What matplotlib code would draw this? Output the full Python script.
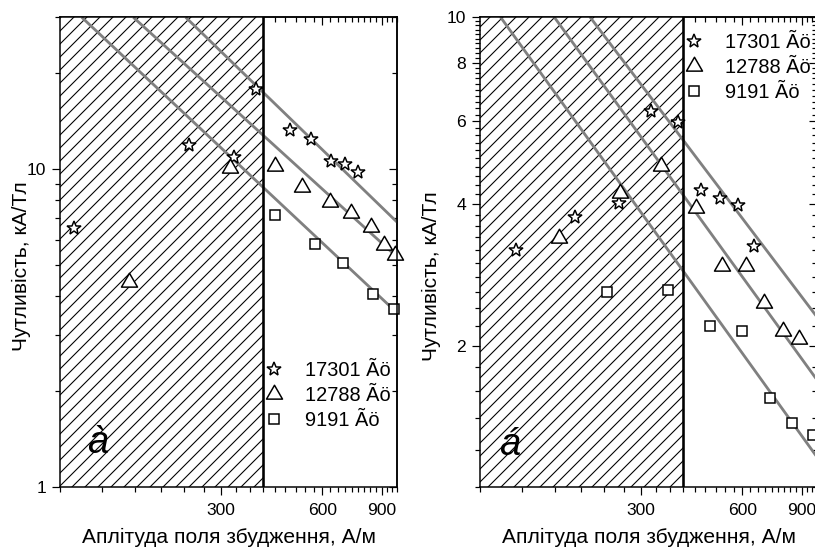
import numpy as np
import matplotlib
matplotlib.use('Agg')
import matplotlib.pyplot as plt
from matplotlib.ticker import FixedLocator, FixedFormatter, NullFormatter
from matplotlib.path import Path

# ---------------- data ----------------
series_labels = ['17301 Ãö', '12788 Ãö', '9191 Ãö']
x_ticks = [300, 600, 900]
x_tick_labels = ['300', '600', '900']
x_minor = list(np.arange(100, 1001, 100 / 3.0))
hatch_range = [100, 400]

# panel a
a_H_star = [110, 241, 329, 381, 483, 556, 635, 699, 766]
a_S_star = [6.5, 11.9, 10.9, 17.8, 13.3, 12.4, 10.6, 10.35, 9.75]
a_H_tri = [160, 320, 434, 523, 634, 728, 835, 916, 985]
a_S_tri = [4.4, 10.05, 10.2, 8.75, 7.9, 7.25, 6.55, 5.75, 5.35]
a_H_sq = [434, 571, 691, 849, 980]
a_S_sq = [7.15, 5.8, 5.05, 4.05, 3.63]
a_fit_star_H = [236, 1000]
a_fit_star_S = [30.0, 6.81]
a_fit_tri_H = [165, 1000]
a_fit_tri_S = [30.0, 5.29]
a_fit_sq_H = [116, 1000]
a_fit_sq_S = [30.0, 3.53]
a_yticks = [1, 10]
a_ytick_labels = ['1', '10']
a_yminor = [2, 3, 4, 5, 6, 7, 8, 9, 20, 30]

# panel b
b_H_star = [127.5, 192, 258, 321.5, 387, 451.5, 516, 582, 651]
b_S_star = [3.19, 3.75, 4.03, 6.3, 5.97, 4.28, 4.11, 3.98, 3.26]
b_H_tri = [172, 260, 344.5, 437, 522, 614, 697, 792, 883]
b_S_tri = [3.38, 4.23, 4.83, 3.93, 2.95, 2.95, 2.46, 2.15, 2.06]
b_H_sq = [238, 361, 480, 600, 725, 845, 971]
b_S_sq = [2.60, 2.63, 2.20, 2.15, 1.55, 1.366, 1.29]
b_fit_star_H = [212, 1000]
b_fit_star_S = [10.0, 2.30]
b_fit_tri_H = [166, 1000]
b_fit_tri_S = [10.0, 1.69]
b_fit_sq_H = [115, 1000]
b_fit_sq_S = [10.0, 1.158]
b_yticks = [2, 4, 6, 8, 10]
b_ytick_labels = ['2', '4', '6', '8', '10']
b_yminor = [v for v in np.round(np.arange(1.0, 10.01, 0.2), 2) if v not in (2, 4, 6, 8, 10)]

xlabel = 'Аплітуда поля збудження, А/м'
ylabel = 'Чутливість, кА/Тл'

# ---------------- style ----------------
DPI = 78
PT = 72.0 / DPI  # points per pixel
plt.rcParams['font.family'] = ['Liberation Sans', 'DejaVu Sans']
plt.rcParams['hatch.linewidth'] = 1.0

fig = plt.figure(figsize=(815 / DPI, 556 / DPI), dpi=DPI)

tri_marker = Path([(0, 1), (-0.866, -0.5), (0.866, -0.5), (0, 1)], closed=True)
marker_specs = [
    dict(marker='*', ms=14 * PT),
    dict(marker=tri_marker, ms=18.5 * PT),
    dict(marker='s', ms=10.5 * PT),
]
LINE_GRAY = '#808080'
TICK_FS = 17.5 * PT
LEG_FS = 20 * PT
LAB_FS = 21 * PT


def make_panel(rect, ylim, yticks, ytick_labels, yminor, pts, fits, letter,
               letter_pos, leg_anchor, ylabel_x, ylabel_y):
    ax = fig.add_axes(rect)
    ax.set_xscale('log')
    ax.set_yscale('log')
    ax.set_xlim(100, 1000)
    ax.set_ylim(*ylim)

    ax.axvspan(hatch_range[0], hatch_range[1], facecolor='white',
               edgecolor='black', hatch='//', linewidth=0, zorder=0.5)
    ax.axvline(hatch_range[1], color='black', lw=2.6 * PT, zorder=3)

    for fx, fy in fits:
        ax.plot(fx, fy, color=LINE_GRAY, lw=2.8 * PT, zorder=2,
                solid_capstyle='butt')

    handles = []
    for (hx, hy), spec in zip(pts, marker_specs):
        h, = ax.plot(hx, hy, linestyle='none', marker=spec['marker'],
                     ms=spec['ms'], mfc='white', mec='black',
                     mew=1.5 * PT, zorder=4, clip_on=False)
        handles.append(h)

    ax.legend(handles, series_labels, loc='upper left',
              bbox_to_anchor=leg_anchor, frameon=False, fontsize=LEG_FS,
              handlelength=1.0, handletextpad=1.05, labelspacing=0.3,
              borderpad=0, borderaxespad=0)

    ax.text(letter_pos[0], letter_pos[1], letter, transform=ax.transAxes,
            fontsize=38 * PT, style='italic', ha='center', va='center',
            zorder=5)

    ax.xaxis.set_major_locator(FixedLocator(x_ticks))
    ax.xaxis.set_major_formatter(FixedFormatter(x_tick_labels))
    ax.xaxis.set_minor_locator(FixedLocator(x_minor))
    ax.xaxis.set_minor_formatter(NullFormatter())
    ax.yaxis.set_major_locator(FixedLocator(yticks))
    ax.yaxis.set_major_formatter(FixedFormatter(ytick_labels))
    ax.yaxis.set_minor_locator(FixedLocator(yminor))
    ax.yaxis.set_minor_formatter(NullFormatter())
    ax.tick_params(which='both', direction='out', top=False, right=False,
                   width=1.2 * PT, labelsize=TICK_FS, colors='black')
    ax.tick_params(which='major', length=8 * PT)
    ax.tick_params(which='minor', length=5 * PT)
    ax.tick_params(axis='x', which='major', pad=8 * PT)
    ax.tick_params(axis='y', which='major', pad=6 * PT)
    for s in ax.spines.values():
        s.set_linewidth(1.5 * PT)
        s.set_zorder(6)

    top = ax.secondary_xaxis('top')
    top.xaxis.set_major_locator(FixedLocator(x_ticks))
    top.xaxis.set_minor_locator(FixedLocator(x_minor))
    top.xaxis.set_minor_formatter(NullFormatter())
    top.tick_params(which='both', direction='in', labeltop=False,
                    width=1.2 * PT)
    top.tick_params(which='major', length=8 * PT)
    top.tick_params(which='minor', length=5 * PT)
    top.spines['top'].set_linewidth(1.5 * PT)

    rgt = ax.secondary_yaxis('right')
    rgt.yaxis.set_major_locator(FixedLocator(yticks))
    rgt.yaxis.set_minor_locator(FixedLocator(yminor))
    rgt.yaxis.set_minor_formatter(NullFormatter())
    rgt.tick_params(which='both', direction='in', labelright=False,
                    width=1.2 * PT)
    rgt.tick_params(which='major', length=8 * PT)
    rgt.tick_params(which='minor', length=5 * PT)
    rgt.spines['right'].set_linewidth(1.5 * PT)

    ax.set_xlabel(xlabel, fontsize=LAB_FS, va='center')
    ax.xaxis.set_label_coords(0.5, -0.1064)
    ax.set_ylabel(ylabel, fontsize=LAB_FS, va='center')
    ax.yaxis.set_label_coords(ylabel_x, ylabel_y)
    return ax


W, H = 815.0, 556.0
make_panel([60 / W, 1 - 487 / H, 337 / W, 470 / H], (1, 30.06),
           a_yticks, a_ytick_labels, a_yminor,
           [(a_H_star, a_S_star), (a_H_tri, a_S_tri), (a_H_sq, a_S_sq)],
           [(a_fit_star_H, a_fit_star_S), (a_fit_tri_H, a_fit_tri_S),
            (a_fit_sq_H, a_fit_sq_S)],
           'à', (0.113, 0.094), (0.605, 0.268), -0.113, 0.470)

make_panel([480 / W, 1 - 487 / H, 337 / W, 470 / H], (1, 10),
           b_yticks, b_ytick_labels, b_yminor,
           [(b_H_star, b_S_star), (b_H_tri, b_S_tri), (b_H_sq, b_S_sq)],
           [(b_fit_star_H, b_fit_star_S), (b_fit_tri_H, b_fit_tri_S),
            (b_fit_sq_H, b_fit_sq_S)],
           'á', (0.089, 0.089), (0.604, 0.966), -0.143, 0.449)

fig.savefig('out.png', dpi=DPI)
